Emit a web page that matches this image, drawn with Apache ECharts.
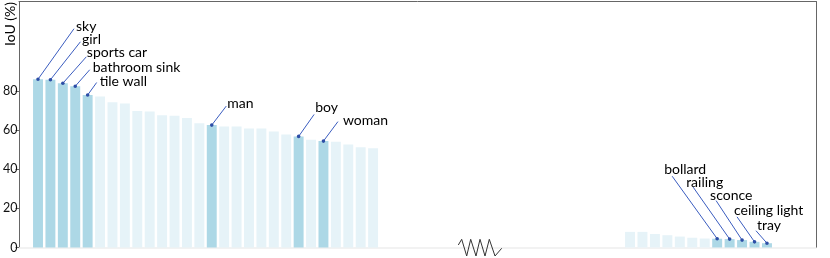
<!DOCTYPE html>
<html>
<head>
<meta charset="utf-8">
<script src="https://cdn.jsdelivr.net/npm/echarts@6/dist/echarts.min.js"></script>
<style>html,body{margin:0;padding:0;background:#fff;}#c{width:830px;height:258px;}</style>
</head>
<body>
<div id="c"></div>
<script>
// ---- data ----
const leftCategories = ['sky','girl','sports car','bathroom sink','tile wall','class 6','class 7','class 8','class 9','class 10',
  'class 11','class 12','class 13','class 14','man','class 16','class 17','class 18','class 19','class 20',
  'class 21','boy','class 23','woman','class 25','class 26','class 27','class 28'];
const leftValues = [86.2, 85.9, 84.1, 82.6, 78.1, 77.3, 74.4, 73.8, 69.9, 69.6,
  67.7, 67.5, 66.3, 63.6, 62.7, 62.0, 62.0, 61.0, 61.0, 59.4,
  57.9, 56.9, 55.2, 54.5, 54.2, 52.8, 51.3, 50.8];
const leftHighlighted = ['sky','girl','sports car','bathroom sink','tile wall','man','boy','woman'];

const rightCategories = ['class r1','class r2','class r3','class r4','class r5','class r6','class r7',
  'bollard','railing','sconce','ceiling light','tray'];
const rightValues = [8.0, 8.0, 6.9, 6.3, 5.6, 5.0, 4.6, 4.5, 4.3, 3.8, 2.9, 2.2];
const rightHighlighted = ['bollard','railing','sconce','ceiling light','tray'];

const yTickValues = [0, 20, 40, 60, 80];
const yAxisName = 'IoU (%)';

// ---- layout / style (not data) ----
const labelOffsets = {
  'sky': {lx: 36, ly: -50.5, tx: 2, ty: -2},
  'girl': {lx: 30, ly: -38, tx: 1.5, ty: -2},
  'sports car': {lx: 23.5, ly: -26.5, tx: 0.5, ty: -4},
  'bathroom sink': {lx: 14.5, ly: -16.5, tx: 3, ty: -2},
  'tile wall': {lx: 9, ly: -12.5, tx: 3, ty: -1},
  'man': {lx: 14.5, ly: -19, tx: 1, ty: -3},
  'boy': {lx: 15.5, ly: -22, tx: 1, ty: -7},
  'woman': {lx: 14.5, ly: -19.5, tx: 5, ty: -1},
  'bollard': {lx: -45, ly: -62.5, tx: -8, ty: -7},
  'railing': {lx: -36.5, ly: -52, tx: -7, ty: -5},
  'sconce': {lx: -26, ly: -39.5, tx: -6, ty: -5},
  'ceiling light': {lx: -17.5, ly: -25, tx: -3, ty: -6},
  'tray': {lx: -11, ly: -12.5, tx: 1, ty: -5}
};
const HI = '#add8e6';
const LO = '#e6f3f8';
const LINE = '#3a5cbf';
const DOT = '#2d4ea6';
const FRAME = '#666666';
const FONT = 'Lato';
const Y_MAX = 126;
const TOP = 1.5, BOTTOM = 10.5;

function barData(cats, vals, hi) {
  return vals.map((v, i) => ({
    value: v,
    itemStyle: {color: hi.indexOf(cats[i]) >= 0 ? HI : LO}
  }));
}
function annData(cats, vals, hi) {
  return hi.map(n => {
    const i = cats.indexOf(n);
    return {value: [i, vals[i]], name: n};
  });
}
function renderAnn(params, api) {
  const item = annotations[params.seriesIndex][params.dataIndex];
  const o = labelOffsets[item.name];
  const p = api.coord([api.value(0), api.value(1)]);
  const ex = p[0] + o.lx, ey = p[1] + o.ly;
  return {
    type: 'group',
    children: [
      {type: 'line', shape: {x1: p[0], y1: p[1], x2: ex, y2: ey}, style: {stroke: LINE, lineWidth: 1}},
      {type: 'circle', shape: {cx: p[0], cy: p[1], r: 1.8}, style: {fill: DOT}},
      {type: 'text', x: ex + o.tx, y: ey + o.ty,
        style: {text: item.name, fill: '#000', fontSize: 14, fontFamily: FONT, align: 'left', verticalAlign: 'middle'}}
    ]
  };
}
const annLeft = annData(leftCategories, leftValues, leftHighlighted);
const annRight = annData(rightCategories, rightValues, rightHighlighted);
const annotations = {2: annLeft, 3: annRight};

const hiddenCat = (idx, cats) => ({
  type: 'category', gridIndex: idx, data: cats, boundaryGap: true,
  axisLine: {show: false}, axisTick: {show: false}, axisLabel: {show: false}, splitLine: {show: false}
});
const hiddenVal = (idx) => ({
  type: 'value', gridIndex: idx, min: 0, max: Y_MAX,
  axisLine: {show: false}, axisTick: {show: false}, axisLabel: {show: false}, splitLine: {show: false}
});

const chart = echarts.init(document.getElementById('c'), null, {renderer: 'canvas'});
chart.setOption({
  animation: false,
  grid: [
    {left: 17, right: 14, top: TOP, bottom: BOTTOM},
    {left: 31.8, width: 347.5, top: TOP, bottom: BOTTOM},
    {left: 623.8, width: 149.4, top: TOP, bottom: BOTTOM}
  ],
  xAxis: [
    {type: 'value', gridIndex: 0, min: 0, max: 1, position: 'bottom',
      axisLine: {show: true, onZero: false, lineStyle: {color: '#eeeeee', width: 1.5}},
      axisTick: {show: false}, axisLabel: {show: false}, splitLine: {show: false}},
    {type: 'value', gridIndex: 0, min: 0, max: 1, position: 'top',
      axisLine: {show: true, onZero: false, lineStyle: {color: FRAME, width: 1}},
      axisTick: {show: false}, axisLabel: {show: false}, splitLine: {show: false}},
    hiddenCat(1, leftCategories),
    hiddenCat(2, rightCategories)
  ],
  yAxis: [
    {type: 'value', gridIndex: 0, min: 0, max: Y_MAX, position: 'left',
      axisLine: {show: true, onZero: false, lineStyle: {color: FRAME, width: 1}},
      axisTick: {show: true, length: 3.5, customValues: yTickValues, lineStyle: {color: FRAME}},
      axisLabel: {show: true, customValues: yTickValues, margin: 1.5, color: '#111', fontSize: 12.5, fontFamily: FONT},
      splitLine: {show: false}},
    {type: 'value', gridIndex: 0, min: 0, max: Y_MAX, position: 'right',
      axisLine: {show: true, onZero: false, lineStyle: {color: FRAME, width: 1}},
      axisTick: {show: false}, axisLabel: {show: false}, splitLine: {show: false}},
    hiddenVal(1),
    hiddenVal(2)
  ],
  series: [
    {type: 'bar', xAxisIndex: 2, yAxisIndex: 2, barWidth: '80%',
      data: barData(leftCategories, leftValues, leftHighlighted)},
    {type: 'bar', xAxisIndex: 3, yAxisIndex: 3, barWidth: '80%',
      data: barData(rightCategories, rightValues, rightHighlighted)},
    {type: 'custom', xAxisIndex: 2, yAxisIndex: 2, clip: false, z: 5, renderItem: renderAnn, data: annLeft},
    {type: 'custom', xAxisIndex: 3, yAxisIndex: 3, clip: false, z: 5, renderItem: renderAnn, data: annRight}
  ],
  graphic: [
    {type: 'text', x: 10, y: 24, rotation: Math.PI / 2,
      style: {text: yAxisName, fill: '#000', fontSize: 14, fontFamily: FONT, align: 'center', verticalAlign: 'middle'}},
    {type: 'polyline', z: 10,
      shape: {points: [[458.3,245],[461.7,239.3],[466.7,256],[470.7,239.3],[476,256],[480,239.3],[485,256],[489.3,239.3],[495,256],[501.7,248.3]]},
      style: {stroke: '#333', lineWidth: 1, fill: null}}
  ]
});
</script>
</body>
</html>
